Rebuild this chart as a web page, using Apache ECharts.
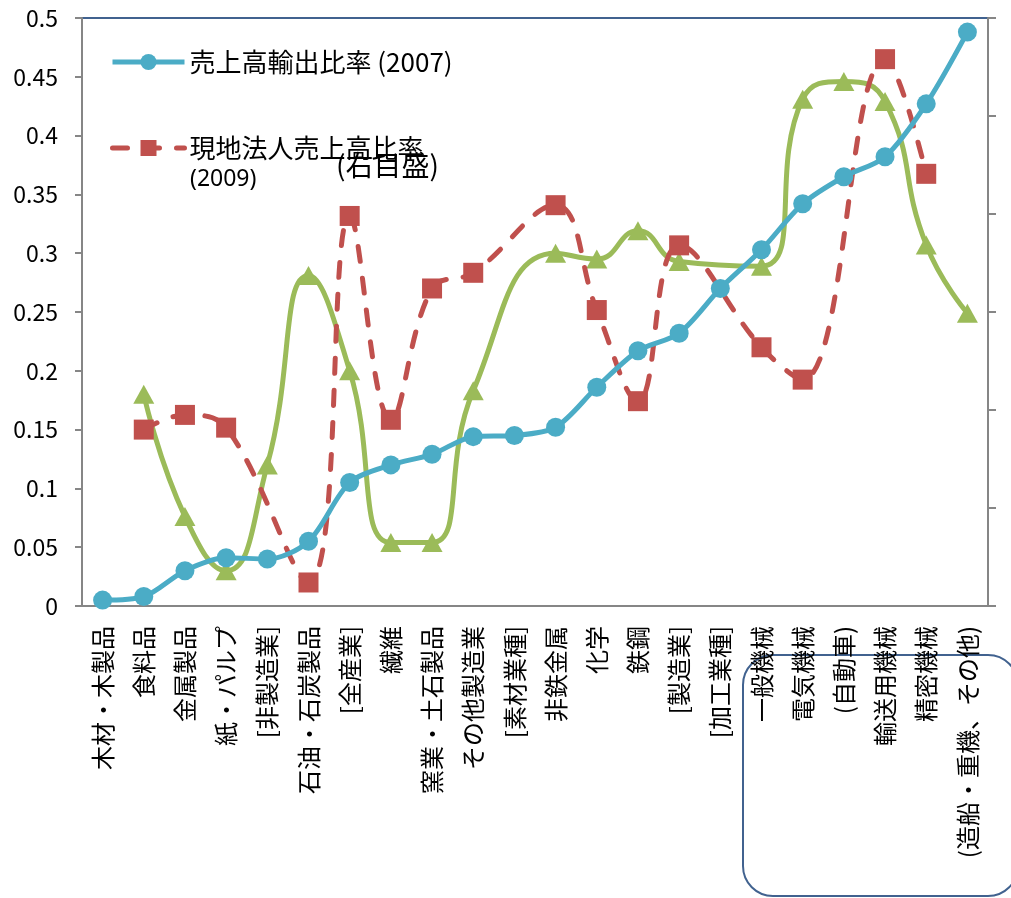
<!DOCTYPE html>
<html>
<head>
<meta charset="utf-8">
<script src="https://cdn.jsdelivr.net/npm/echarts@6/dist/echarts.min.js"></script>
<style>
html,body{margin:0;padding:0;background:#fff;}
#chart{width:1011px;height:898px;}
</style>
</head>
<body>
<div id="chart"></div>
<script>
const categories = ['木材・木製品','食料品','金属製品','紙・パルプ','[非製造業]','石油・石炭製品','[全産業]','繊維','窯業・土石製品','その他製造業','[素材業種]','非鉄金属','化学','鉄鋼','[製造業]','[加工業種]','一般機械','電気機械','(自動車)','輸送用機械','精密機械','(造船・重機、その他)'];
const exportRatio2007 = [0.005,0.008,0.030,0.041,0.040,0.055,0.105,0.120,0.129,0.144,0.145,0.152,0.186,0.217,0.232,0.270,0.303,0.342,0.365,0.382,0.427,0.488];
const overseasSales2009 = [null,0.180,0.195,0.182,null,0.024,0.398,0.190,0.324,0.340,null,0.409,0.302,0.209,0.368,null,0.264,0.231,null,0.558,0.441,null];
const thirdSeries = [null,0.180,0.076,0.030,0.120,0.281,0.200,0.054,0.054,0.183,null,0.300,0.295,0.319,0.293,null,0.289,0.431,0.446,0.429,0.307,0.249];
const leftTicks = {min:0,max:0.5,interval:0.05};
const rightTicks = {min:0,max:0.6,interval:0.1};

const FONT = '"Noto Sans CJK JP", "Noto Sans", sans-serif';
const chart = echarts.init(document.getElementById('chart'));
chart.setOption({
  animation:false,
  backgroundColor:'#fff',
  grid:{left:82,right:23,top:18,bottom:292,containLabel:false},
  legend:[
    {left:110,top:47,padding:0,itemWidth:72,itemHeight:20,itemGap:0,
     data:['売上高輸出比率 (2007)'],
     lineStyle:{width:5},
     textStyle:{fontFamily:FONT,fontSize:26,color:'#000',lineHeight:30}},
    {left:110,top:133,padding:0,itemWidth:72,itemHeight:20,itemGap:0,
     data:['現地法人売上高比率 (2009)'],
     lineStyle:{width:5},
     formatter:function(){return '現地法人売上高比率';},
     textStyle:{fontFamily:FONT,fontSize:26,color:'#000',lineHeight:30}}
  ],
  xAxis:{type:'category',data:categories,boundaryGap:true,
    axisLine:{lineStyle:{color:'#868686',width:2}},
    axisTick:{show:false},
    axisLabel:{rotate:90,interval:0,margin:20,fontFamily:FONT,fontSize:24,color:'#000'}
  },
  yAxis:[
    {type:'value',min:leftTicks.min,max:leftTicks.max,interval:leftTicks.interval,position:'left',
     splitLine:{show:false},
     axisLine:{show:true,lineStyle:{color:'#868686',width:2}},
     axisTick:{show:true,length:7,lineStyle:{color:'#868686',width:2}},
     axisLabel:{fontFamily:FONT,fontSize:23,color:'#000',margin:24}},
    {type:'value',min:rightTicks.min,max:rightTicks.max,interval:rightTicks.interval,position:'right',
     splitLine:{show:false},
     axisLine:{show:true,lineStyle:{color:'#868686',width:2}},
     axisTick:{show:true,length:8,lineStyle:{color:'#868686',width:2}},
     axisLabel:{show:false}}
  ],
  series:[
    {name:'売上高輸出比率 (2007)',type:'line',yAxisIndex:0,data:exportRatio2007,smooth:0.3,
     symbol:'circle',symbolSize:19,
     lineStyle:{color:'#4bacc6',width:5},itemStyle:{color:'#4bacc6'},z:3},
    {name:'現地法人売上高比率 (2009)',type:'line',yAxisIndex:1,data:overseasSales2009,smooth:0.4,connectNulls:true,
     symbol:'rect',symbolSize:20,
     lineStyle:{color:'#c0504d',width:5,type:[15,17],cap:'round'},itemStyle:{color:'#c0504d'},z:2},
    {name:'third',type:'line',yAxisIndex:0,data:thirdSeries,smooth:0.5,connectNulls:true,
     symbol:'triangle',symbolSize:[21,19],
     lineStyle:{color:'#9bbb59',width:5},itemStyle:{color:'#9bbb59'},z:1}
  ],
  graphic:[
    {type:'line',shape:{x1:82,y1:18,x2:988,y2:18},style:{stroke:'#41628f',lineWidth:2},silent:true},
    {type:'text',left:190,top:168,style:{text:'(2009)',font:'23px "Noto Sans"',fill:'#000'}},
    {type:'text',left:336,top:151,style:{text:'(右目盛)',font:'28px "Noto Sans CJK JP"',fill:'#000'}},
    {type:'rect',shape:{x:743,y:655,width:275,height:241,r:30},style:{stroke:'#41628f',lineWidth:2,fill:'none'},silent:true}
  ]
});
</script>
</body>
</html>
